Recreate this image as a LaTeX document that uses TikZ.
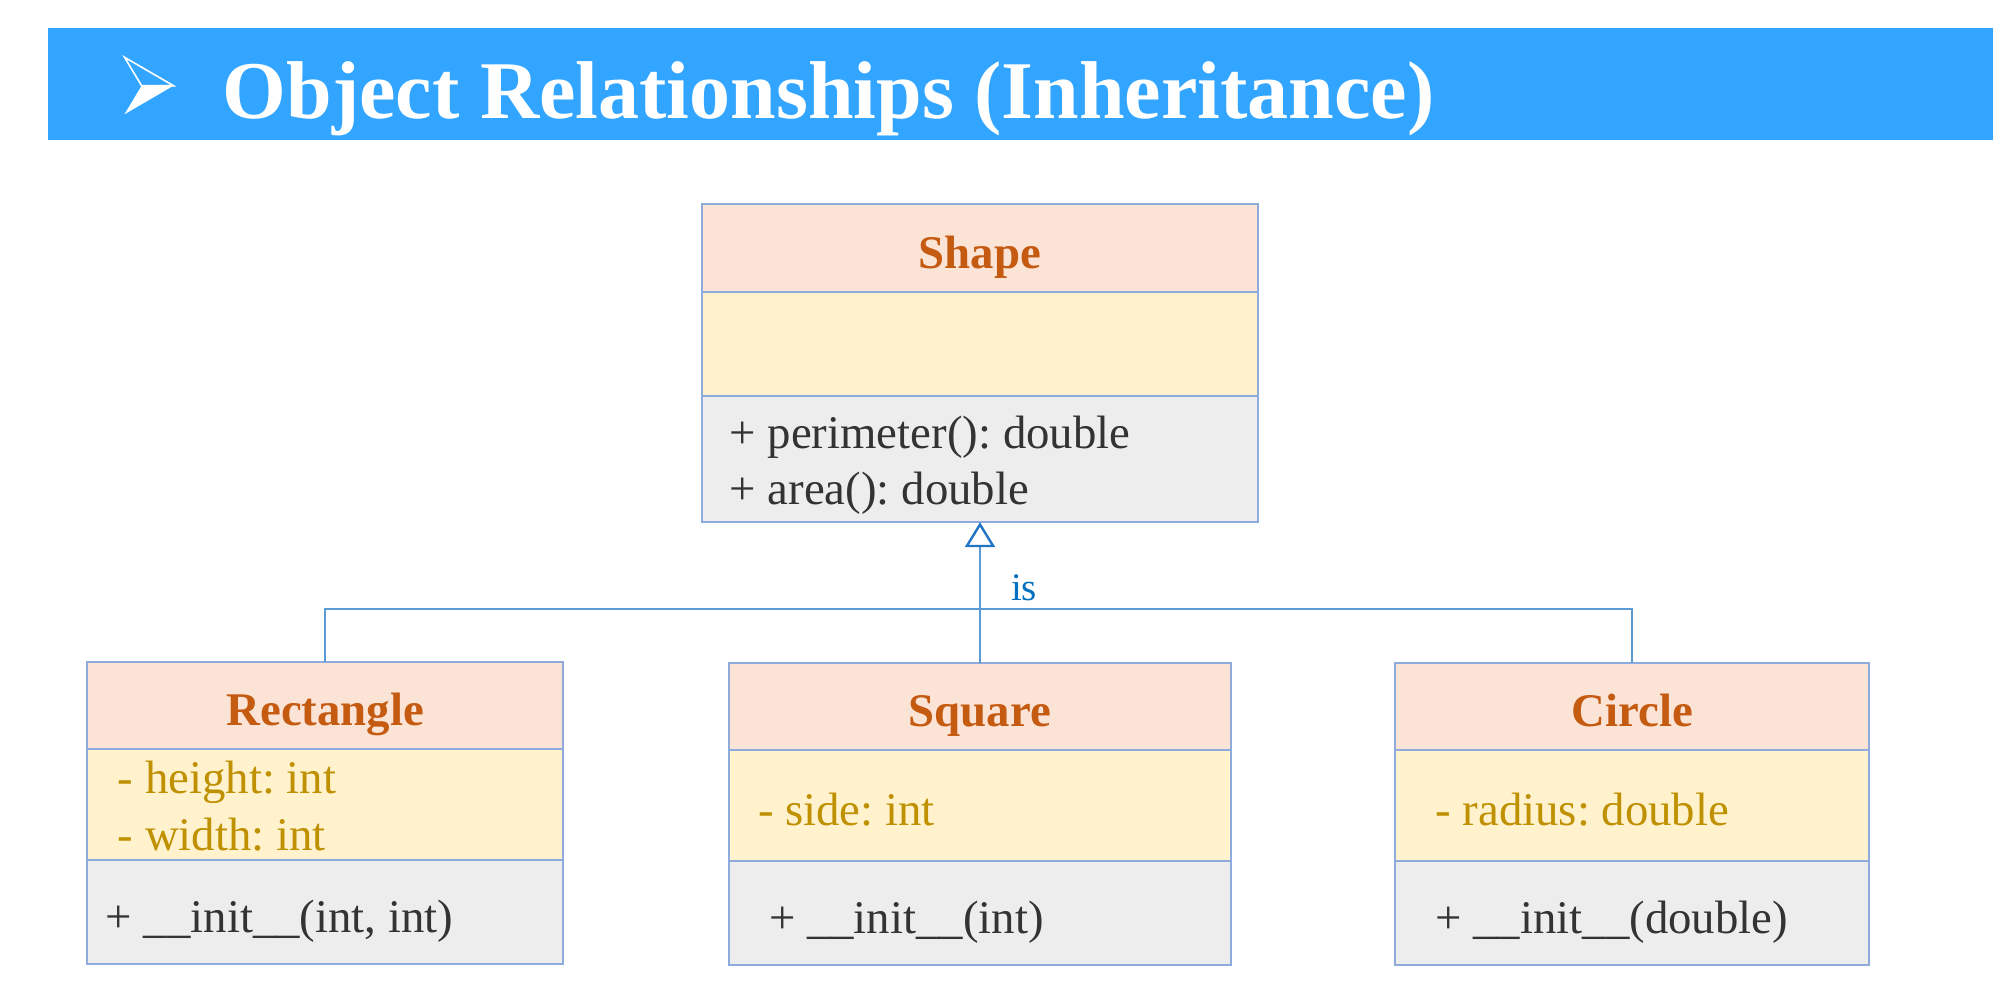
\documentclass[tikz,border=0pt]{standalone}
\usepackage{fontspec}
\setmainfont{Liberation Serif}
\usetikzlibrary{positioning,arrows.meta}
\frenchspacing

\definecolor{barblue}{HTML}{31A5FF}
\definecolor{namefill}{HTML}{FBE3D6}
\definecolor{nametext}{HTML}{C55A11}
\definecolor{attrfill}{HTML}{FFF2CC}
\definecolor{attrtext}{HTML}{BF9000}
\definecolor{opsfill}{HTML}{EDEDED}
\definecolor{opstext}{HTML}{333333}
\definecolor{boxline}{HTML}{8FAADC}
\definecolor{linkblue}{HTML}{5B9BD5}
\definecolor{tipblue}{HTML}{1F74C4}
\definecolor{istext}{HTML}{0070C0}

\newcommand{\bodysize}{\fontsize{23.4}{28.5}\selectfont}

\begin{document}
\begin{tikzpicture}[x=0.5pt,y=-0.5pt,
	compart/.style={draw=boxline, line width=1pt, inner sep=0pt, outer sep=0pt},
	namebox/.style={compart, fill=namefill, text=nametext, font=\bodysize\bfseries, minimum height=43.5pt, text height=20pt, text depth=0pt},
	attrbox/.style={compart, fill=attrfill, minimum height=55.5pt},
	opsbox/.style={compart, fill=opsfill, minimum height=52pt},
	member/.style={inner sep=0pt, font=\bodysize, text height=20pt, text depth=0pt},
	attrtxt/.style={member, text=attrtext},
	opstxt/.style={member, text=opstext},
	isline/.style={draw=linkblue, line width=1pt},
	node distance=0pt]
	\useasboundingbox (0,0) rectangle (2016,996);
	
	% title bar
	\fill[barblue] (47.6,28.3) rectangle (1993,140.1);
	\fill[white] (124.5,114.3) -- (141.6,85.7) -- (173.5,85.7) -- cycle;
	\draw[white, line width=0.8pt] (124.5,57.3) -- (173.5,85.7) -- (141.6,85.7) -- cycle;
	\node[anchor=base west, inner sep=0pt, text=white, font=\fontsize{41}{48}\selectfont\bfseries] (title) at (222.4,118.3) {Object Relationships (Inheritance)};
	
	% Shape
	\node[namebox, minimum width=277.7pt, minimum height=43.85pt] (shape-name) at (980,248) {Shape};
	\node[attrbox, minimum width=277.7pt, minimum height=52.15pt, below=of shape-name] (shape-attr) {};
	\node[opsbox, minimum width=277.7pt, minimum height=63pt, below=of shape-attr] (shape-ops) {};
	\node[opstxt, right=13.5pt of shape-ops.west, yshift=15.5pt] (shape-perim) {+ perimeter(): double};
	\node[opstxt, right=13.5pt of shape-ops.west, yshift=-12.8pt] (shape-area) {+ area(): double};
	
	% Rectangle
	\node[namebox, minimum width=237.85pt] (rect-name) at (325.25,705.6) {Rectangle};
	\node[attrbox, minimum width=237.85pt, below=of rect-name] (rect-attr) {};
	\node[opsbox, minimum width=237.85pt, below=of rect-attr] (rect-ops) {};
	\node[attrtxt, right=15pt of rect-attr.west, yshift=15.5pt] (rect-height) {- height: int};
	\node[attrtxt, right=15pt of rect-attr.west, yshift=-12.8pt] (rect-width) {- width: int};
	\node[opstxt, right=9pt of rect-ops.west] (rect-init) {+ \_\_init\_\_(int, int)};
	
	% Square
	\node[namebox, minimum width=251.35pt] (sq-name) at (980,706.9) {Square};
	\node[attrbox, minimum width=251.35pt, below=of sq-name] (sq-attr) {};
	\node[opsbox, minimum width=251.35pt, below=of sq-attr] (sq-ops) {};
	\node[attrtxt, right=14.5pt of sq-attr.west] (sq-side) {- side: int};
	\node[opstxt, right=20pt of sq-ops.west] (sq-init) {+ \_\_init\_\_(int)};
	
	% Circle
	\node[namebox, minimum width=237.2pt] (circ-name) at (1632.2,706.9) {Circle};
	\node[attrbox, minimum width=237.2pt, below=of circ-name] (circ-attr) {};
	\node[opsbox, minimum width=237.2pt, below=of circ-attr] (circ-ops) {};
	\node[attrtxt, right=20pt of circ-attr.west] (circ-radius) {- radius: double};
	\node[opstxt, right=20pt of circ-ops.west] (circ-init) {+ \_\_init\_\_(double)};
	
	% inheritance
	\coordinate (bus) at (980,609.4);
	\draw[isline] (rect-name.north) |- (bus) -| (circ-name.north);
	\draw[isline, -{Triangle[width=15pt, length=12.5pt, color=tipblue, fill=white, line width=1.2pt]}] (sq-name.north) -- (shape-ops.south);
	\node[text=istext, font=\fontsize{19.5}{22}\selectfont, anchor=base] (is-label) at (1024,600) {is};
\end{tikzpicture}
\end{document}
